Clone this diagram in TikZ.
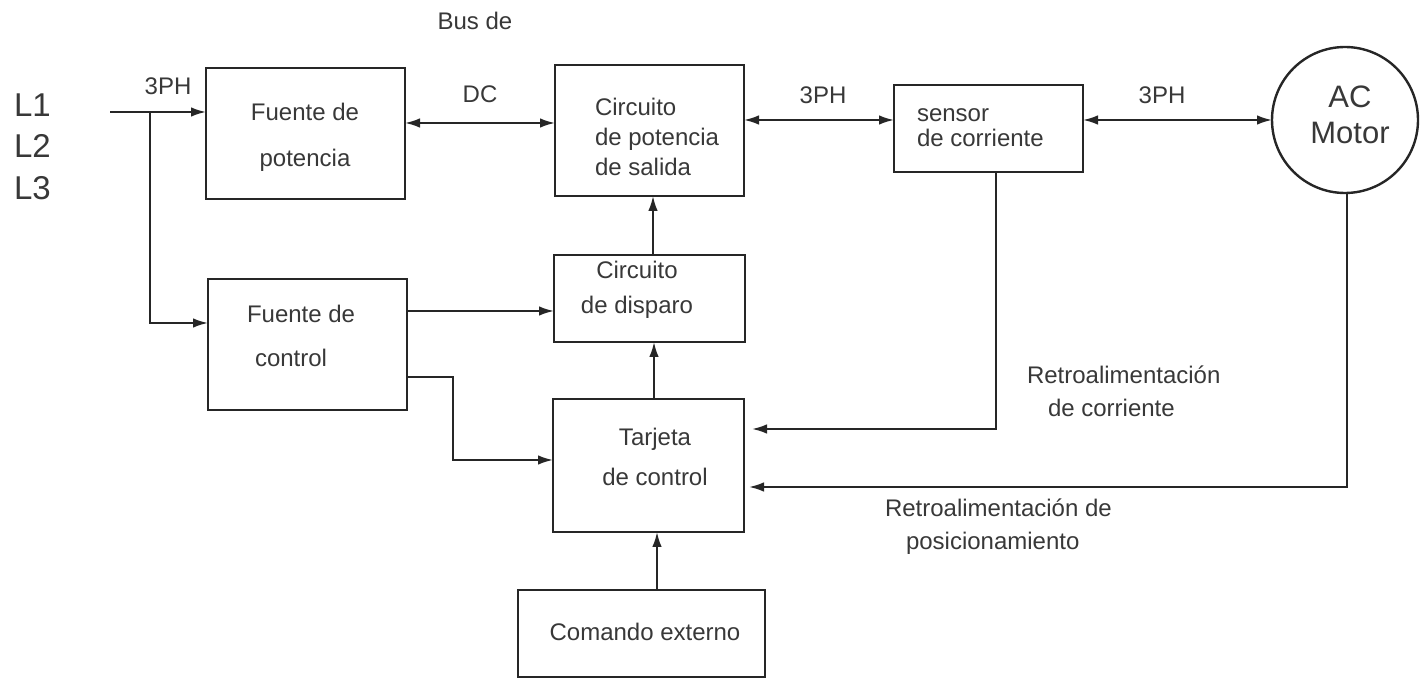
\documentclass[tikz,border=0pt]{standalone}
\usepackage{fontspec}
\setmainfont{Liberation Sans}
\usetikzlibrary{arrows.meta,calc}
\definecolor{ink}{gray}{0.15}
\definecolor{txt}{gray}{0.22}
\newcommand{\fsz}[2]{\fontsize{#1}{#2}\selectfont}
\begin{document}
\begin{tikzpicture}[x=0.5pt,y=-0.5pt,
  blk/.style={draw=ink,line width=1.2pt,inner sep=0pt,outer sep=0pt,rectangle},
  lbl/.style={text=txt,inner sep=0pt,outer sep=0pt,font=\fsz{12}{14}},
  wire/.style={draw=ink,line width=1pt},
  arr/.style={wire,-{Latex[length=7.5pt,width=4.8pt]}},
  darr/.style={wire,{Latex[length=7.5pt,width=4.8pt]}-{Latex[length=7.5pt,width=4.8pt]}},
]
\useasboundingbox (0,0) rectangle (1420,678);

% blocks
\node[blk,minimum width=99.5pt,minimum height=65.5pt] (fp) at (305.5,133.5) {};
\node[blk,minimum width=94.5pt,minimum height=65.5pt] (cps) at (649.5,130.5) {};
\node[blk,minimum width=94.5pt,minimum height=43.5pt] (sen) at (988.5,128.5) {};
\node[blk,minimum width=95.5pt,minimum height=43.5pt] (cd) at (649.5,298.5) {};
\node[blk,minimum width=99.5pt,minimum height=65.5pt] (fc) at (307.5,344.5) {};
\node[blk,minimum width=95.5pt,minimum height=66.5pt] (tc) at (648.5,465.5) {};
\node[blk,minimum width=123.5pt,minimum height=43.5pt] (ce) at (641.5,633.5) {};
\node[draw=ink,line width=1.2pt,circle,minimum size=73pt,inner sep=0pt,outer sep=0pt] (mot) at (1345,120) {};

% block texts
\node[lbl,align=center,font=\fsz{15.5}{18}] (mott) at (1350,115) {AC\\Motor};
\node[lbl,align=center,font=\fsz{12}{23}] (fpt) at (305,137) {Fuente de\\potencia};
\node[lbl,align=left,anchor=west,font=\fsz{12}{15}] (cpst) at (595,137) {Circuito\\de potencia\\de salida};
\node[lbl,align=left,anchor=west,font=\fsz{12}{12.5}] (sent) at (917,127.5) {sensor\\de corriente};
\node[lbl,align=center,font=\fsz{12}{17.5}] (cdt) at (637,289.5) {Circuito\\de disparo};
\node[lbl,align=left,anchor=west,font=\fsz{12}{22}] (fct) at (247,336) {Fuente de\\\hspace*{4pt}control};
\node[lbl,align=center,font=\fsz{12}{20}] (tct) at (655,457) {Tarjeta\\de control};
\node[lbl] (cet) at (645,632) {Comando externo};

% free labels
\node[lbl,align=left,anchor=west,font=\fsz{16.5}{20.75}] (lines) at (14,146.5) {L1\\L2\\L3};
\node[lbl] (l3ph) at (168,86) {3PH};
\node[lbl] (lbus) at (475,21) {Bus de};
\node[lbl] (ldc) at (480,94) {DC};
\node[lbl] (m3ph) at (823,95) {3PH};
\node[lbl] (r3ph) at (1162,95) {3PH};
\node[lbl,align=left,anchor=west,font=\fsz{12}{16.5}] (rcor) at (1027,391.5) {Retroalimentación\\\hspace*{10.5pt}de corriente};
\node[lbl,align=left,anchor=west,font=\fsz{12}{16.5}] (rpos) at (885,526.5) {Retroalimentación de\\\hspace*{10.5pt}posicionamiento};

% connectors
\coordinate (lin) at (110,112);
\coordinate (br) at (150,112);
\draw[arr] (lin) -- (lin -| fp.west);
\draw[arr] (br) |- ([yshift=10.75pt]fc.west);
\draw[darr] ([yshift=5.25pt]fp.east) -- ([yshift=5.25pt]fp.east -| cps.west);
\draw[darr] (cps.east |- mot.west) -- (sen.west |- mot.west);
\draw[darr] (sen.east |- mot.west) -- (mot.west);
\draw[arr] ([xshift=1.75pt]cd.north) -- ([xshift=1.75pt]cd.north |- cps.south);
\draw[arr] ([yshift=16.75pt]fc.east) -- ([yshift=16.75pt]fc.east -| cd.west);
\draw[arr] ([yshift=-16.25pt]fc.east) -- ++(46,0) |- ([yshift=2.75pt]tc.west);
\draw[arr] ([xshift=2.75pt]tc.north) -- ([xshift=2.75pt]tc.north |- cd.south);
\draw[arr] ([xshift=7.75pt]ce.north) -- ([xshift=7.75pt]ce.north |- tc.south);
\draw[arr,shorten >=4pt] ([xshift=3.75pt]sen.south) |- ([yshift=18.25pt]tc.east);
\draw[arr,shorten >=2.5pt] ([xshift=1pt]mot.south) |- ([yshift=-10.75pt]tc.east);
\end{tikzpicture}
\end{document}
